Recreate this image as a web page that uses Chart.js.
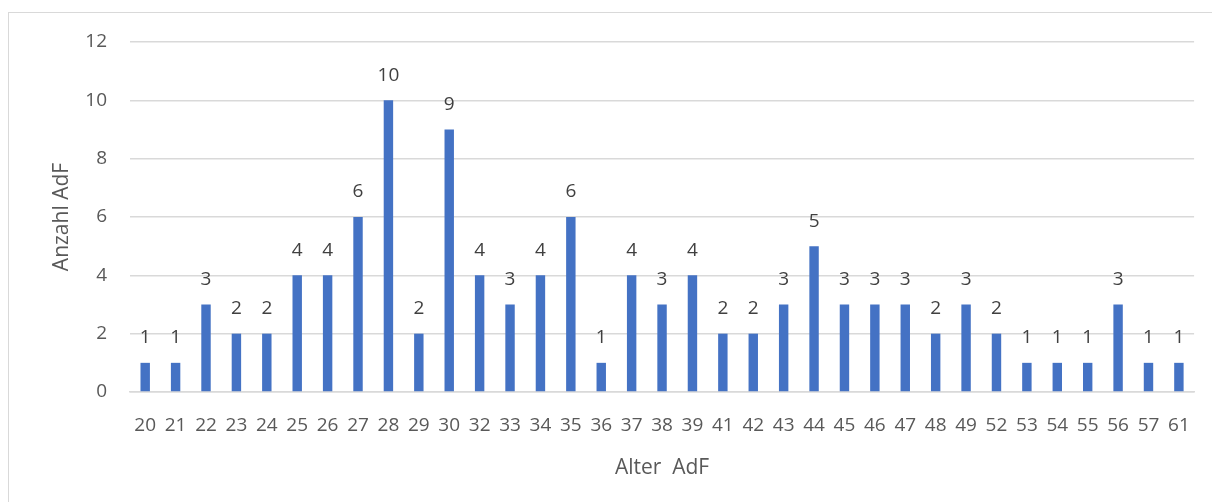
<!DOCTYPE html>
<html>
<head>
<meta charset="utf-8">
<script src="https://cdn.jsdelivr.net/npm/chart.js@4"></script>
<style>
  body { margin: 0; background: #fff; }
  #wrap { position: relative; width: 1212px; height: 502px; }
  #frame { position: absolute; left: 8px; top: 12px; width: 1210px; height: 500px;
           border-left: 1px solid #d9d9d9; border-top: 1px solid #d9d9d9; }
  canvas { position: absolute; left: 0; top: 0; }
</style>
</head>
<body>
<div id="wrap">
  <div id="frame"></div>
  <canvas id="chart" width="1212" height="502"></canvas>
</div>
<script>
const ages = ["20","21","22","23","24","25","26","27","28","29","30","32","33","34","35","36","37","38","39","41","42","43","44","45","46","47","48","49","52","53","54","55","56","57","61"];
const counts = [1,1,3,2,2,4,4,6,10,2,9,4,3,4,6,1,4,3,4,2,2,3,5,3,3,3,2,3,2,1,1,1,3,1,1];
const yTicks = [0, 2, 4, 6, 8, 10, 12];

const FONT = "'Open Sans', sans-serif";

// Werte über den Balken
const barLabels = {
  id: "barLabels",
  afterDatasetsDraw(chart) {
    const ctx = chart.ctx;
    const meta = chart.getDatasetMeta(0);
    ctx.save();
    ctx.font = "19px " + FONT;
    ctx.fillStyle = "#404040";
    ctx.textAlign = "center";
    ctx.textBaseline = "middle";
    meta.data.forEach((bar, i) => {
      ctx.fillText(String(counts[i]), bar.x, bar.y - 25);
    });
    ctx.restore();
  },
};

new Chart(document.getElementById("chart"), {
  type: "bar",
  data: {
    labels: ages,
    datasets: [{
      data: counts,
      backgroundColor: "#4472C4",
      barPercentage: 0.31,
      categoryPercentage: 1,
    }],
  },
  options: {
    responsive: false,
    animation: false,
    layout: { padding: { top: 42, right: 17, bottom: 17, left: 0 } },
    plugins: { legend: { display: false }, tooltip: { enabled: false } },
    scales: {
      x: {
        grid: { display: false, drawTicks: false },
        border: { color: "#d9d9d9", width: 1.5 },
        ticks: { color: "#595959", font: { family: FONT, size: 19 }, padding: 22, maxRotation: 0, autoSkip: false },
        title: { display: true, text: "Alter  AdF", color: "#595959", font: { family: FONT, size: 21 }, padding: { top: 8 } },
        afterFit(scale) { scale.height = 93; },
      },
      y: {
        min: 0,
        max: 12,
        afterBuildTicks(scale) { scale.ticks = yTicks.map(v => ({ value: v })); },
        grid: { color: "#d9d9d9", lineWidth: 1.5, drawTicks: false },
        border: { display: false },
        ticks: { color: "#595959", font: { family: FONT, size: 19 }, padding: 23 },
        title: { display: true, text: "Anzahl AdF", color: "#595959", font: { family: FONT, size: 21 }, padding: { top: 49 } },
        afterFit(scale) { scale.width = 130; },
      },
    },
  },
  plugins: [barLabels],
});
</script>
</body>
</html>
